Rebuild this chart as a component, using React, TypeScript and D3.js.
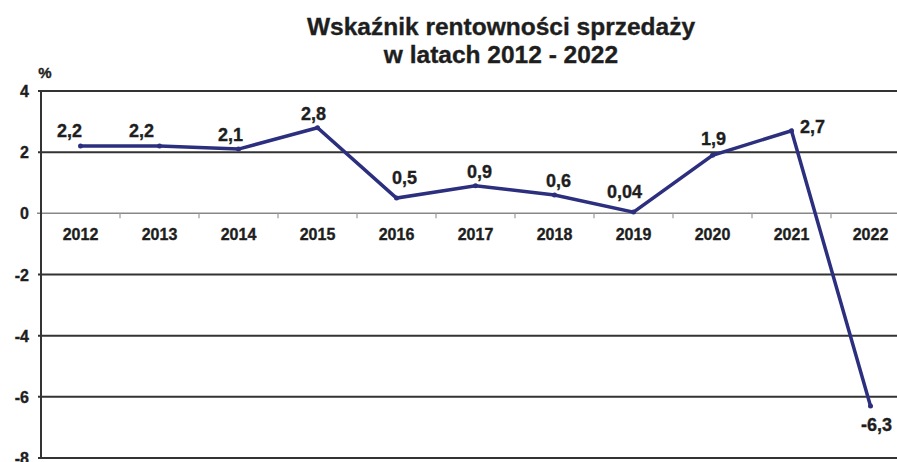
import React from "react";
import * as d3 from "d3";

const years = ["2012","2013","2014","2015","2016","2017","2018","2019","2020","2021","2022"];
const values = [2.2, 2.2, 2.1, 2.8, 0.5, 0.9, 0.6, 0.04, 1.9, 2.7, -6.3];
const valueLabels = ["2,2","2,2","2,1","2,8","0,5","0,9","0,6","0,04","1,9","2,7","-6,3"];
const yTicks = [4, 2, 0, -2, -4, -6, -8];
const titleLines = ["Wskaźnik rentowności sprzedaży", "w latach 2012 - 2022"];

// label offsets relative to point (layout only)
const labelDx = [-11, -18, -8, -4, 8, 4, 4, -9, 1, 21, 6];
const labelDy = [-9, -9, -8, -8, -14, -8, -8, -14, -10, 2, 25];

export default function App() {
  const W = 897, H = 462;
  const left = 41;
  const x = d3.scaleBand<string>().domain(years).range([left, left + 79 * 11]).padding(0);
  const y = d3.scaleLinear().domain([-8, 4]).range([458, 91]);
  const cx = (d: string) => (x(d) as number) + x.bandwidth() / 2;
  const line = d3.line<number>().x((_, i) => cx(years[i])).y((v) => y(v));
  const font = "'Liberation Sans', Arial, sans-serif";
  const lineColor = "#2c2f7e";
  const txt = "#1e1e1e";
  const heavy = { stroke: txt, strokeWidth: 0.35 };

  return (
    <svg width={W} height={H} style={{ position: "absolute", left: 0, top: 0, background: "#fff" }} fontFamily={font}>
      <rect width={W} height={H} fill="#fff" />
      {titleLines.map((t, i) => (
        <text key={i} x={501} y={35 + i * 28} textAnchor="middle" fontWeight="bold" fontSize={24.5} fill={txt} {...heavy}>{t}</text>
      ))}
      <text x={45} y={78} textAnchor="middle" fontWeight="bold" fontSize={15} fill={txt} {...heavy}>%</text>
      {/* gridlines */}
      {yTicks.filter((t) => t !== 0).map((t) => (
        <line key={t} x1={left - 3} x2={W} y1={y(t)} y2={y(t)} stroke="#333" strokeWidth={2} />
      ))}
      {/* zero line */}
      <line x1={left - 4} x2={W} y1={y(0)} y2={y(0)} stroke="#888" strokeWidth={1.5} />
      {years.slice(1).map((yr) => (
        <line key={yr} x1={x(yr) as number} x2={x(yr) as number} y1={y(0)} y2={y(0) + 5} stroke="#999" strokeWidth={1.2} />
      ))}
      {/* y axis */}
      <line x1={left} x2={left} y1={y(4) - 1} y2={y(-8) + 1} stroke="#333" strokeWidth={2} />
      {yTicks.map((t) => (
        <text key={t} x={29} y={y(t) + 6} textAnchor="end" fontWeight="bold" fontSize={16} fill={txt} {...heavy}>{t}</text>
      ))}
      {years.map((yr) => (
        <text key={yr} x={cx(yr)} y={240} textAnchor="middle" fontWeight="bold" fontSize={16} fill={txt} {...heavy}>{yr}</text>
      ))}
      <path d={line(values) || ""} fill="none" stroke={lineColor} strokeWidth={3.5} strokeLinejoin="miter" />
      {values.map((v, i) => (
        <circle key={i} cx={cx(years[i])} cy={y(v)} r={2.5} fill={lineColor} />
      ))}
      {values.map((v, i) => (
        <text key={i} x={cx(years[i]) + labelDx[i]} y={y(v) + labelDy[i]} textAnchor="middle" fontWeight="bold" fontSize={18} fill={txt} {...heavy}>{valueLabels[i]}</text>
      ))}
    </svg>
  );
}
